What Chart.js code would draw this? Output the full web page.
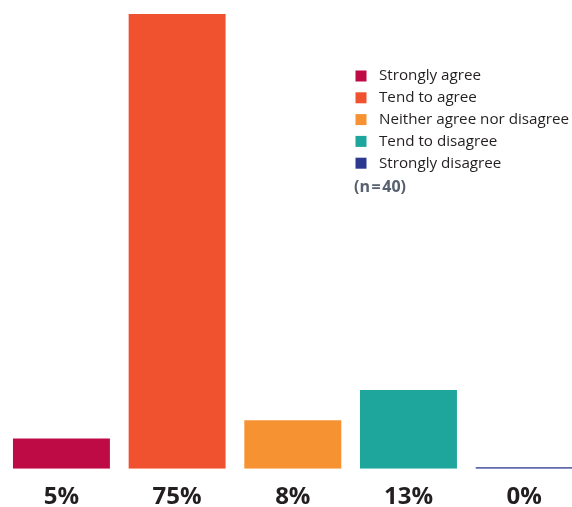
<!DOCTYPE html>
<html>
<head>
<meta charset="utf-8">
<script src="https://cdn.jsdelivr.net/npm/chart.js@4/dist/chart.umd.min.js"></script>
<style>
  html, body { margin: 0; padding: 0; background: #fff; overflow: hidden; }
  #wrap { width: 572px; height: 507px; overflow: hidden; }
</style>
</head>
<body>
<div id="wrap"><canvas id="agreeChart" width="582" height="507"></canvas></div>
<script>
//  Response data
const categories = ['Strongly agree', 'Tend to agree', 'Neither agree nor disagree', 'Tend to disagree', 'Strongly disagree'];
const shares     = [5, 75, 8, 13, 0];
const shareTicks = ['5%', '75%', '8%', '13%', '0%'];
const barColors  = ['#bf0b45', '#f05230', '#f79232', '#1ea69c', '#2b3990'];
const sampleNote = '(n\u200a=\u200a40)';

//  Legend drawn in the upper right of the plot
const sideLegend = {
  id: 'sideLegend',
  afterDraw(chart) {
    const ctx = chart.ctx;
    const x0 = 355.5, textX = 379, y0 = 76, step = 21.8;
    ctx.save();
    ctx.textBaseline = 'middle';
    ctx.font = '15.2px "Open Sans"';
    categories.forEach((name, i) => {
      const y = y0 + i * step;
      ctx.fillStyle = barColors[i];
      ctx.fillRect(x0, y - 5.5, 11, 11);
      ctx.fillStyle = '#231f20';
      ctx.fillText(name, textX, y);
    });
    ctx.font = 'bold 16px "Open Sans"';
    ctx.fillStyle = '#56606e';
    ctx.fillText(sampleNote, 354, y0 + 5 * step + 2);
    ctx.restore();
  }
};

new Chart(document.getElementById('agreeChart'), {
  type: 'bar',
  data: {
    labels: shareTicks,
    datasets: [{
      data: shares,
      backgroundColor: barColors,
      borderWidth: 0,
      minBarLength: 1.5,
      categoryPercentage: 1,
      barPercentage: 0.838,
    }]
  },
  options: {
    responsive: false,
    animation: false,
    layout: { padding: { left: 3.6, right: 0, top: 14, bottom: 0 } },
    scales: {
      x: {
        grid: { display: false, drawTicks: false },
        border: { display: false },
        afterFit(scale) { scale.height = 38.3; },
        ticks: {
          color: '#231f20',
          padding: 14,
          font: { family: 'Open Sans', size: 24, weight: 'bold' },
        }
      },
      y: {
        display: false,
        min: 0,
        max: 75,
      }
    },
    plugins: {
      legend: { display: false },
      tooltip: { enabled: false },
    }
  },
  plugins: [sideLegend]
});
</script>
</body>
</html>
